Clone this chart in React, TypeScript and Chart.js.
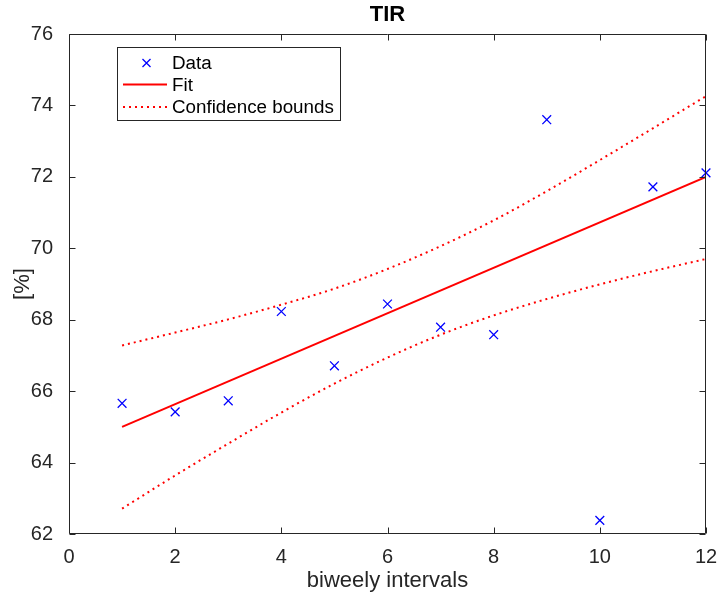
import React, { useEffect, useRef } from "react";
import { Chart, registerables } from "chart.js";

Chart.register(...registerables);

// ---- data ----
const intervals = [1, 2, 3, 4, 5, 6, 7, 8, 9, 10, 11, 12];
const tirValues = [65.66, 65.42, 65.73, 68.23, 66.71, 68.44, 67.79, 67.58, 73.60, 62.38, 71.72, 72.11];
const fitX = [1, 12];
const fitValues = [65.0, 72.0];
const upperBound = [67.28, 67.64, 68.01, 68.42, 68.87, 69.42, 70.06, 70.78, 71.60, 72.47, 73.36, 74.26];
const lowerBound = [62.71, 63.64, 64.53, 65.40, 66.21, 66.94, 67.58, 68.12, 68.58, 68.99, 69.36, 69.70];
const xTicks = [0, 2, 4, 6, 8, 10, 12];
const yTicks = [62, 64, 66, 68, 70, 72, 74, 76];

const titleText = "TIR";
const xLabel = "biweely intervals";
const yLabel = "[%]";
const legendLabels = ["Data", "Fit", "Confidence bounds"];

const AXIS = "#262626";
const FONT = '"Liberation Sans", Arial, Helvetica, sans-serif';

const matlabFrame = {
  id: "matlabFrame",
  afterDraw(chart: any) {
    const { ctx, chartArea: a, scales } = chart;
    ctx.save();
    ctx.strokeStyle = AXIS;
    ctx.lineWidth = 1;
    const L = Math.round(a.left) + 0.5;
    const R = Math.round(a.right) - 0.5;
    const T = Math.round(a.top) + 0.5;
    const B = Math.round(a.bottom) - 0.5;
    ctx.beginPath();
    ctx.rect(L, T, R - L, B - T);
    ctx.stroke();
    const tl = 6;
    ctx.beginPath();
    xTicks.forEach((v) => {
      const px = Math.round(scales.x.getPixelForValue(v)) + 0.5;
      ctx.moveTo(px, B);
      ctx.lineTo(px, B - tl);
      ctx.moveTo(px, T);
      ctx.lineTo(px, T + tl);
    });
    yTicks.forEach((v) => {
      const py = Math.round(scales.y.getPixelForValue(v)) + 0.5;
      ctx.moveTo(L, py);
      ctx.lineTo(L + tl, py);
      ctx.moveTo(R, py);
      ctx.lineTo(R - tl, py);
    });
    ctx.stroke();

    // title
    ctx.fillStyle = "#000";
    ctx.font = `bold 22px ${FONT}`;
    ctx.textAlign = "center";
    ctx.textBaseline = "middle";
    ctx.fillText(titleText, (a.left + a.right) / 2, 15);

    // legend
    const bx = 117.5, by = 47.5, bw = 223, bh = 73;
    ctx.fillStyle = "#fff";
    ctx.fillRect(bx, by, bw, bh);
    ctx.strokeStyle = AXIS;
    ctx.lineWidth = 1;
    ctx.strokeRect(bx, by, bw, bh);
    const rows = [63, 84.5, 107];
    const ds = chart.data.datasets;
    ctx.strokeStyle = ds[0].borderColor;
    ctx.lineWidth = 1.3;
    const mx = 146.5, my = rows[0], r = 4;
    ctx.beginPath();
    ctx.moveTo(mx - r, my - r);
    ctx.lineTo(mx + r, my + r);
    ctx.moveTo(mx + r, my - r);
    ctx.lineTo(mx - r, my + r);
    ctx.stroke();
    ctx.strokeStyle = ds[1].borderColor;
    ctx.lineWidth = 2;
    ctx.beginPath();
    ctx.moveTo(123, rows[1]);
    ctx.lineTo(167, rows[1]);
    ctx.stroke();
    ctx.setLineDash(ds[2].borderDash);
    ctx.lineWidth = ds[2].borderWidth;
    ctx.beginPath();
    ctx.moveTo(123, rows[2]);
    ctx.lineTo(167, rows[2]);
    ctx.stroke();
    ctx.setLineDash([]);
    ctx.fillStyle = "#000";
    ctx.font = `18.8px ${FONT}`;
    ctx.textAlign = "left";
    ctx.textBaseline = "middle";
    legendLabels.forEach((t, i) => ctx.fillText(t, 172, rows[i] + 1));
    ctx.restore();
  },
};

const zeroPad = (s: any) => {
  s.paddingLeft = 0;
  s.paddingRight = 0;
  s.paddingTop = 0;
  s.paddingBottom = 0;
};

export default function App() {
  const ref = useRef<HTMLCanvasElement>(null);
  useEffect(() => {
    document.body.style.margin = "0";
    const canvas = ref.current!;
    const dataPts = intervals.map((x, i) => ({ x, y: tirValues[i] }));
    const fitPts = fitX.map((x, i) => ({ x, y: fitValues[i] }));
    const upPts = intervals.map((x, i) => ({ x, y: upperBound[i] }));
    const loPts = intervals.map((x, i) => ({ x, y: lowerBound[i] }));
    const chart = new Chart(canvas, {
      type: "scatter",
      data: {
        datasets: [
          {
            label: legendLabels[0],
            data: dataPts,
            pointStyle: "crossRot",
            pointRadius: 6.2,
            borderColor: "rgb(0,0,255)",
            backgroundColor: "rgb(0,0,255)",
            borderWidth: 1.3,
            showLine: false,
            clip: false,
          },
          {
            label: legendLabels[1],
            data: fitPts,
            showLine: true,
            borderColor: "rgb(255,0,0)",
            borderWidth: 2,
            pointRadius: 0,
          },
          {
            label: legendLabels[2],
            data: upPts,
            showLine: true,
            borderColor: "rgb(255,0,0)",
            borderWidth: 2,
            borderDash: [2, 4],
            pointRadius: 0,
            cubicInterpolationMode: "monotone",
          },
          {
            label: legendLabels[2] + " (lower)",
            data: loPts,
            showLine: true,
            borderColor: "rgb(255,0,0)",
            borderWidth: 2,
            borderDash: [2, 4],
            pointRadius: 0,
            cubicInterpolationMode: "monotone",
          },
        ],
      },
      options: {
        animation: false,
        responsive: false,
        devicePixelRatio: 1,
        layout: { padding: { top: 34, right: 11, left: 0, bottom: 0 } },
        plugins: {
          legend: { display: false },
          title: { display: false },
          tooltip: { enabled: false },
        },
        scales: {
          x: {
            type: "linear",
            min: 0,
            max: 12,
            afterBuildTicks: (s: any) => {
              s.ticks = xTicks.map((v) => ({ value: v }));
            },
            afterFit: (s: any) => {
              s.height = 60;
              zeroPad(s);
            },
            grid: { display: false },
            border: { display: false },
            ticks: {
              color: AXIS,
              font: { family: FONT, size: 20 },
              padding: 3,
              maxRotation: 0,
              autoSkip: false,
            },
            title: {
              display: true,
              text: xLabel,
              color: AXIS,
              font: { family: FONT, size: 22 },
              padding: { top: 0, bottom: 0 },
            },
          },
          y: {
            type: "linear",
            min: 62,
            max: 76,
            afterBuildTicks: (s: any) => {
              s.ticks = yTicks.map((v) => ({ value: v }));
            },
            afterFit: (s: any) => {
              s.width = 69;
              zeroPad(s);
            },
            grid: { display: false },
            border: { display: false },
            ticks: {
              color: AXIS,
              font: { family: FONT, size: 20 },
              padding: 8,
              autoSkip: false,
            },
            title: {
              display: true,
              text: yLabel,
              color: AXIS,
              font: { family: FONT, size: 22 },
              padding: { top: 10, bottom: 0 },
            },
          },
        },
      },
      plugins: [matlabFrame],
    } as any);
    return () => chart.destroy();
  }, []);
  return (
    <div style={{ width: 717, height: 594, background: "#fff" }}>
      <canvas ref={ref} width={717} height={594} style={{ display: "block" }} />
    </div>
  );
}
